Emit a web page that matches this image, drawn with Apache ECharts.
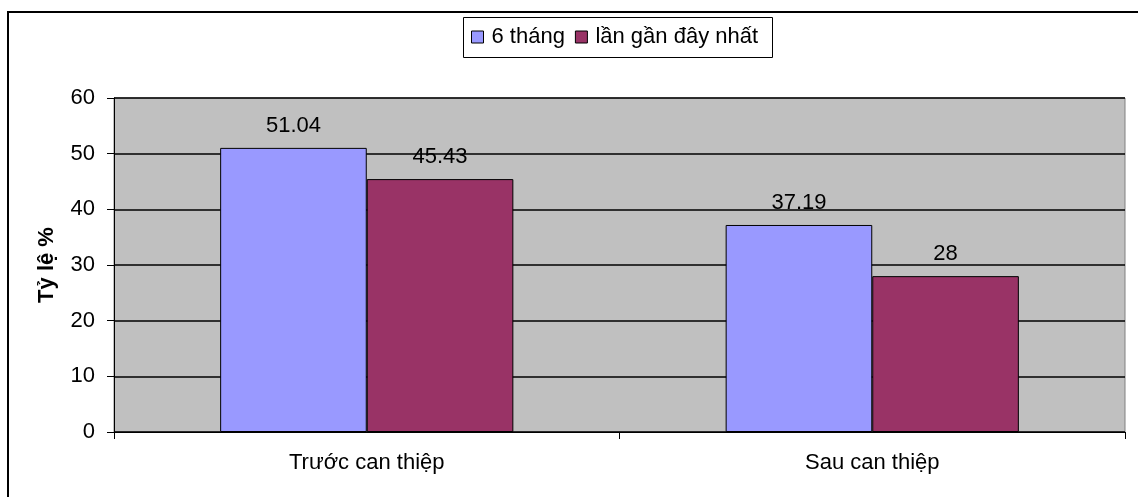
<!DOCTYPE html>
<html><head><meta charset="utf-8">
<script src="https://cdn.jsdelivr.net/npm/echarts@6/dist/echarts.min.js"></script>
<style>html,body{margin:0;padding:0;background:#fff}#c{width:1138px;height:497px}</style>
</head><body><div id="c"></div>
<script>
const categories = ['Trước can thiệp', 'Sau can thiệp'];
const seriesNames = ['6 tháng', 'lần gần đây nhất'];
const series6Thang = [51.04, 37.19];
const seriesGanDay = [45.43, 28];
const yTicks = [0, 10, 20, 30, 40, 50, 60];

const chart = echarts.init(document.getElementById('c'), null, {renderer: 'canvas'});
const font = 'Liberation Sans, Arial, sans-serif';
chart.setOption({
  animation: false,
  backgroundColor: '#fff',
  textStyle: {fontFamily: font},
  graphic: [
    {type: 'rect', shape: {x: 8, y: 12, width: 1160, height: 520}, style: {fill: null, stroke: '#000', lineWidth: 2}, silent: true, z: 100},
    {type: 'rect', shape: {x: 463.5, y: 17.5, width: 309, height: 40}, style: {fill: '#fff', stroke: '#000', lineWidth: 1}, silent: true, z: 1}
  ],
  legend: {
    top: 26, left: 471, padding: 0,
    itemWidth: 12, itemHeight: 12, itemGap: 10,
    icon: 'rect',
    data: seriesNames.map(n => ({name: n, itemStyle: {borderColor: '#000', borderWidth: 1}})),
    textStyle: {fontSize: 22, color: '#000', fontFamily: font, padding: [0, 0, 0, 3]},
    z: 10
  },
  grid: {left: 114, right: 13, top: 98, bottom: 65, show: true, backgroundColor: '#C0C0C0', borderColor: '#808080', borderWidth: 1},
  xAxis: {
    type: 'category', data: categories,
    axisLine: {show: true, lineStyle: {color: '#000', width: 1}},
    axisTick: {show: true, length: 7, inside: false, alignWithLabel: false, lineStyle: {color: '#000'}},
    axisLabel: {fontSize: 22, color: '#000', margin: 20, fontFamily: font},
    splitLine: {show: false}
  },
  yAxis: {
    type: 'value', min: yTicks[0], max: yTicks[yTicks.length - 1], interval: 10,
    name: 'Tỷ lệ %', nameLocation: 'middle', nameGap: 56, nameRotate: 90,
    nameTextStyle: {fontSize: 22, fontWeight: 'bold', color: '#000', fontFamily: font},
    axisLine: {show: true, lineStyle: {color: '#000', width: 1}},
    axisTick: {show: true, length: 7, lineStyle: {color: '#000'}},
    axisLabel: {fontSize: 22, color: '#000', margin: 19, fontFamily: font},
    splitLine: {show: true, lineStyle: {color: '#000', width: 1.5}}
  },
  series: [
    {name: seriesNames[0], type: 'bar', data: series6Thang, barGap: '0%', barCategoryGap: '42%',
     itemStyle: {color: '#9999FF', borderColor: '#000', borderWidth: 1},
     label: {show: true, position: 'top', distance: 11, fontSize: 22, color: '#000', fontFamily: font}},
    {name: seriesNames[1], type: 'bar', data: seriesGanDay, barGap: '0%', barCategoryGap: '42%',
     itemStyle: {color: '#993366', borderColor: '#000', borderWidth: 1},
     label: {show: true, position: 'top', distance: 11, fontSize: 22, color: '#000', fontFamily: font}}
  ]
});
</script></body></html>
